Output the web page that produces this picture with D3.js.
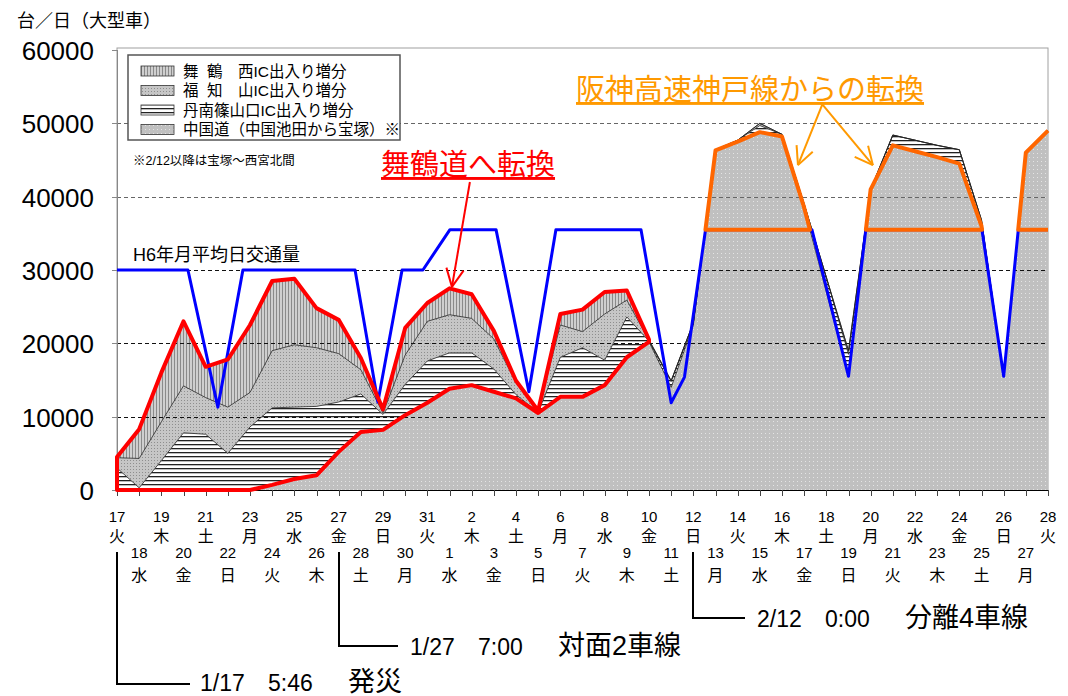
<!DOCTYPE html>
<html lang="ja">
<head>
<meta charset="UTF-8">
<title>大型車交通量の推移</title>
<style>
  body { margin: 0; background: #fff; }
  svg { display: block; font-family: "Liberation Sans", Arial, "Noto Sans CJK JP", sans-serif; }
</style>
</head>
<body>
<svg id="chart" width="1068" height="696"></svg>
<script src="https://d3js.org/d3.v7.min.js"></script>
<script>
// ---- data (1995/1/17 .. 2/28, one value per day) ----
const dayLabels = ["17","18","19","20","21","22","23","24","25","26","27","28","29","30","31",
  "1","2","3","4","5","6","7","8","9","10","11","12","13","14","15","16","17","18","19","20",
  "21","22","23","24","25","26","27","28"];
const weekdayLabels = ["火","水","木","金","土","日","月","火","水","木","金","土","日","月",
  "火","水","木","金","土","日","月","火","水","木","金","土","日","月",
  "火","水","木","金","土","日","月","火","水","木","金","土","日","月","火"];

// 中国道（中国池田から宝塚）
const chugoku = [0,0,0,0,0,0,0,700,1500,2000,5200,7900,8200,10200,11900,13800,14300,13400,12500,10500,
  12700,12700,14300,18100,20200,14000,22500,46300,47500,48800,48200,38500,27000,15500,41000,47000,46200,45400,44500,36000,15500,46000,49000];
// 丹南篠山口IC出入り増分
const tannan = [3000,300,4000,7800,7600,5000,8600,10500,9800,9400,6800,5200,2100,4200,5700,4900,4400,3100,500,100,
  5400,6700,3400,5500,100,800,300,100,200,900,300,500,2000,3000,0,1400,1500,1600,1900,800,0,0,0];
// 福知山IC出入り増分
const fukuchiyama = [1400,4000,5300,6400,5000,6300,4700,7800,8500,8000,6600,3300,200,4000,5400,5200,4700,4100,1600,100,
  4400,2200,6300,2300,100,100,0,0,0,300,0,0,0,500,0,0,0,0,0,0,0,0,0];
// 舞鶴西IC出入り増分
const maizuru = [100,4000,6700,8800,4200,6500,9200,9500,9000,5400,4600,1600,500,3700,2500,3600,3300,1100,300,100,
  1500,3000,3000,1300,100,0,0,0,0,0,0,0,0,0,0,0,0,0,0,0,0,0,0];

// H6年月平均日交通量 (position in days from 1/17, value)
const h6Day = [0,3.2,4.55,5.68,10.74,11.77,12.86,13.8,15.02,17.1,18.58,19.8,23.64,25.0,25.6,26.55,31.35,33.0,33.78,39.02,40.0,40.66,42];
const h6Val = [30000,30000,11300,30000,30000,12000,30000,30000,35500,35500,13400,35500,35500,11900,15400,35500,35500,15500,35500,35500,15500,35500,35500];

const yTicks = [0,10000,20000,30000,40000,50000,60000];
const legendParts = [["舞","鶴","西IC出入り増分"],["福","知","山IC出入り増分"],["丹南篠山口IC出入り増分"],["中国道（中国池田から宝塚）※"]];
const h6Level = 35500;

// ---- setup ----
const svg = d3.select("#chart");
const x = d3.scaleLinear().domain([0, 42]).range([117, 1048]);
const y = d3.scaleLinear().domain([0, 60000]).range([490, 50]);

const rows = dayLabels.map((d, i) => ({
  i, chugoku: chugoku[i], tannan: tannan[i], fukuchiyama: fukuchiyama[i], maizuru: maizuru[i]
}));
const keys = ["chugoku","tannan","fukuchiyama","maizuru"];
const series = d3.stack().keys(keys)(rows);
const total = rows.map(r => r.chugoku + r.tannan + r.fukuchiyama + r.maizuru);

// patterns
const defs = svg.append("defs");
function pattern(id, w, h, bg, draw) {
  const p = defs.append("pattern").attr("id", id).attr("patternUnits", "userSpaceOnUse")
    .attr("width", w).attr("height", h);
  p.append("rect").attr("width", w).attr("height", h).attr("fill", bg);
  draw(p);
}
pattern("p-chu", 4, 4, "#c0c0c0", p => p.append("rect").attr("x", 1).attr("y", 1).attr("width", 1).attr("height", 1).attr("fill", "#e4e4e4"));
pattern("p-tan", 4, 4, "#ffffff", p => p.append("rect").attr("y", 0).attr("width", 4).attr("height", 1.3).attr("fill", "#222"));
pattern("p-fuku", 3, 3, "#c6c6c6", p => p.append("rect").attr("x", 1).attr("y", 1).attr("width", 1).attr("height", 1).attr("fill", "#8e8e8e"));
pattern("p-mai", 3, 3, "#cfcfcf", p => p.append("rect").attr("x", 0).attr("width", 1).attr("height", 3).attr("fill", "#8a8a8a"));
const fills = { chugoku: "url(#p-chu)", tannan: "url(#p-tan)", fukuchiyama: "url(#p-fuku)", maizuru: "url(#p-mai)" };

// plot frame
svg.append("rect").attr("x", x(0)).attr("y", y(60000) - 2).attr("width", x(42) - x(0)).attr("height", y(0) - y(60000) + 2)
  .attr("fill", "none").attr("stroke", "#a0a0a0").attr("stroke-width", 1);

// stacked areas
const area = d3.area().x(d => x(d.data.i)).y0(d => y(d[0])).y1(d => y(d[1]));
svg.append("g").selectAll("path").data(series).join("path")
  .attr("d", area).attr("fill", s => fills[s.key]);

// gridlines
svg.append("g").selectAll("line").data(yTicks.filter(v => v > 0 && v < 60000)).join("line")
  .attr("x1", x(0)).attr("x2", x(42)).attr("y1", d => Math.round(y(d)) + 0.5).attr("y2", d => Math.round(y(d)) + 0.5)
  .attr("stroke", d => d >= 40000 ? "#666" : "#111").attr("stroke-width", 1).attr("stroke-dasharray", "4,3");

// layer boundary lines
const topLine = d3.line().x(d => x(d.data.i)).y(d => y(d[1]));
svg.append("g").selectAll("path").data(series).join("path")
  .attr("d", topLine).attr("fill", "none").attr("stroke", "#222").attr("stroke-width", 0.8);

// axes
svg.append("line").attr("x1", x(0)).attr("x2", x(42)).attr("y1", y(0) + 0.5).attr("y2", y(0) + 0.5)
  .attr("stroke", "#000").attr("stroke-width", 1.2);
svg.append("line").attr("x1", x(0) + 0.5).attr("x2", x(0) + 0.5).attr("y1", y(60000)).attr("y2", y(0))
  .attr("stroke", "#888");
svg.append("g").selectAll("line").data(dayLabels).join("line")
  .attr("x1", (d, i) => Math.round(x(i)) + 0.5).attr("x2", (d, i) => Math.round(x(i)) + 0.5)
  .attr("y1", y(0)).attr("y2", y(0) + 6).attr("stroke", "#444");
svg.append("g").selectAll("line").data(yTicks).join("line")
  .attr("x1", x(0) - 5).attr("x2", x(0)).attr("y1", d => Math.round(y(d)) + 0.5).attr("y2", d => Math.round(y(d)) + 0.5)
  .attr("stroke", "#888");

// y labels
svg.append("g").selectAll("text").data(yTicks).join("text")
  .attr("x", 94).attr("y", d => y(d) + 10).attr("text-anchor", "end")
  .attr("font-size", 26).attr("fill", "#000").text(d => d);
svg.append("text").attr("x", 17).attr("y", 27).attr("font-size", 18).text("台／日（大型車）");

// x labels, two staggered rows
const xl = svg.append("g").attr("text-anchor", "middle");
xl.selectAll("text.num").data(dayLabels).join("text").attr("class", "num")
  .attr("x", (d, i) => x(i)).attr("y", (d, i) => i % 2 ? 558 : 522).attr("font-size", 15).text(d => d);
xl.selectAll("text.wd").data(weekdayLabels).join("text").attr("class", "wd")
  .attr("x", (d, i) => x(i)).attr("y", (d, i) => i % 2 ? 581 : 542).attr("font-size", 16).text(d => d);

// H6 average line
const h6 = h6Day.map((d, i) => [d, h6Val[i]]);
svg.append("path").attr("d", d3.line().x(d => x(d[0])).y(d => y(d[1]))(h6))
  .attr("fill", "none").attr("stroke", "#0000ff").attr("stroke-width", 3).attr("stroke-linejoin", "round");
svg.append("text").attr("x", 133).attr("y", 261).attr("font-size", 18).attr("fill", "#000").text("H6年月平均日交通量");

// red outline: Maizuru-route shift (total vs 中国道), 1/17 .. 2/10
const redPts = d3.range(0, 25).map(i => [i, total[i]])
  .concat(d3.range(24, -1, -1).map(i => [i, chugoku[i]]));
svg.append("path").attr("d", d3.line().x(d => x(d[0])).y(d => y(d[1]))(redPts) + "Z")
  .attr("fill", "none").attr("stroke", "#ff0000").attr("stroke-width", 4).attr("stroke-linejoin", "round");

// orange outlines: 中国道 above H6 level
function above(vals, from, to, level) {
  const pts = [];
  for (let i = from; i <= to; i++) {
    if (i > from) {
      const a = vals[i - 1], b = vals[i];
      if ((a < level) !== (b < level)) pts.push([i - 1 + (level - a) / (b - a), level]);
    }
    if (vals[i] >= level) pts.push([i, vals[i]]);
  }
  return pts;
}
const oLine = d3.line().x(d => x(d[0])).y(d => y(d[1]));
[[26, 32], [33, 40]].forEach(([a, b]) => {
  const pts = above(chugoku, a, b, h6Level);
  svg.append("path").attr("d", oLine(pts) + "Z")
    .attr("fill", "none").attr("stroke", "#ff6600").attr("stroke-width", 4).attr("stroke-linejoin", "round");
});
{
  const pts = [[42, h6Level]].concat(above(chugoku, 40, 42, h6Level));
  svg.append("path").attr("d", oLine(pts))
    .attr("fill", "none").attr("stroke", "#ff6600").attr("stroke-width", 4).attr("stroke-linejoin", "round");
}

// legend
const lg = svg.append("g");
lg.append("rect").attr("x", 128).attr("y", 55).attr("width", 272).attr("height", 85)
  .attr("fill", "#fff").attr("stroke", "#555").attr("stroke-width", 1.5);
const lgKeys = ["maizuru","fukuchiyama","tannan","chugoku"];
const partOffsets = [0, 24, 55];
lgKeys.forEach((k, j) => {
  const cy = 71 + j * 19.5;
  lg.append("rect").attr("x", 141).attr("y", cy - 5).attr("width", 33).attr("height", 10)
    .attr("fill", fills[k]).attr("stroke", "#333").attr("stroke-width", 0.8);
  const t = lg.append("text").attr("y", cy + 5.5).attr("font-size", 15.5);
  legendParts[j].forEach((s, n) => t.append("tspan").attr("x", 183 + partOffsets[n]).text(s));
});
svg.append("text").attr("x", 133).attr("y", 165).attr("font-size", 12.5).text("※2/12以降は宝塚～西宮北間");

// arrows
function arrow(color, from, tip, width) {
  const p0 = [x(from[0]), y(from[1])], p1 = [x(tip[0]), y(tip[1])];
  const ang = Math.atan2(p1[1] - p0[1], p1[0] - p0[0]);
  const g = svg.append("g").attr("stroke", color).attr("stroke-width", width).attr("fill", "none");
  g.append("line").attr("x1", p0[0]).attr("y1", p0[1]).attr("x2", p1[0]).attr("y2", p1[1]);
  [-0.45, 0.45].forEach(da => {
    g.append("line").attr("x1", p1[0]).attr("y1", p1[1])
      .attr("x2", p1[0] - 20 * Math.cos(ang + da)).attr("y2", p1[1] - 20 * Math.sin(ang + da));
  });
}
svg.append("text").attr("x", 381).attr("y", 175).attr("font-size", 29).attr("fill", "#ff0000")
  .attr("text-decoration", "underline").text("舞鶴道へ転換");
arrow("#ff0000", [15.92, 42000], [15.11, 27700], 2);

svg.append("text").attr("x", 576).attr("y", 100).attr("font-size", 29).attr("fill", "#ff9900")
  .attr("text-decoration", "underline").text("阪神高速神戸線からの転換");
arrow("#ff9900", [31.82, 52600], [30.72, 44300], 2);
arrow("#ff9900", [31.82, 52600], [34.1, 44300], 2);

// event markers below the axis
const events = [
  { day: 0, yLine: 684, lineEnd: 190, textX: 200, parts: ["1/17", "5:46", "発災"] },
  { day: 10, yLine: 646, lineEnd: 398, textX: 410, parts: ["1/27", "7:00", "対面2車線"] },
  { day: 26, yLine: 618, lineEnd: 745, textX: 757, parts: ["2/12", "0:00", "分離4車線"] }
];
events.forEach(e => {
  const ex = Math.round(x(e.day));
  svg.append("path").attr("d", `M${ex},552V${e.yLine}H${e.lineEnd}`)
    .attr("fill", "none").attr("stroke", "#000").attr("stroke-width", 2);
  const t = svg.append("text").attr("y", Math.min(e.yLine + 9, 691)).attr("font-size", 23);
  t.append("tspan").attr("x", e.textX).text(e.parts[0]);
  t.append("tspan").attr("x", e.textX + 68).text(e.parts[1]);
  t.append("tspan").attr("x", e.textX + 148).attr("font-size", 27).text(e.parts[2]);
});
</script>
</body>
</html>
